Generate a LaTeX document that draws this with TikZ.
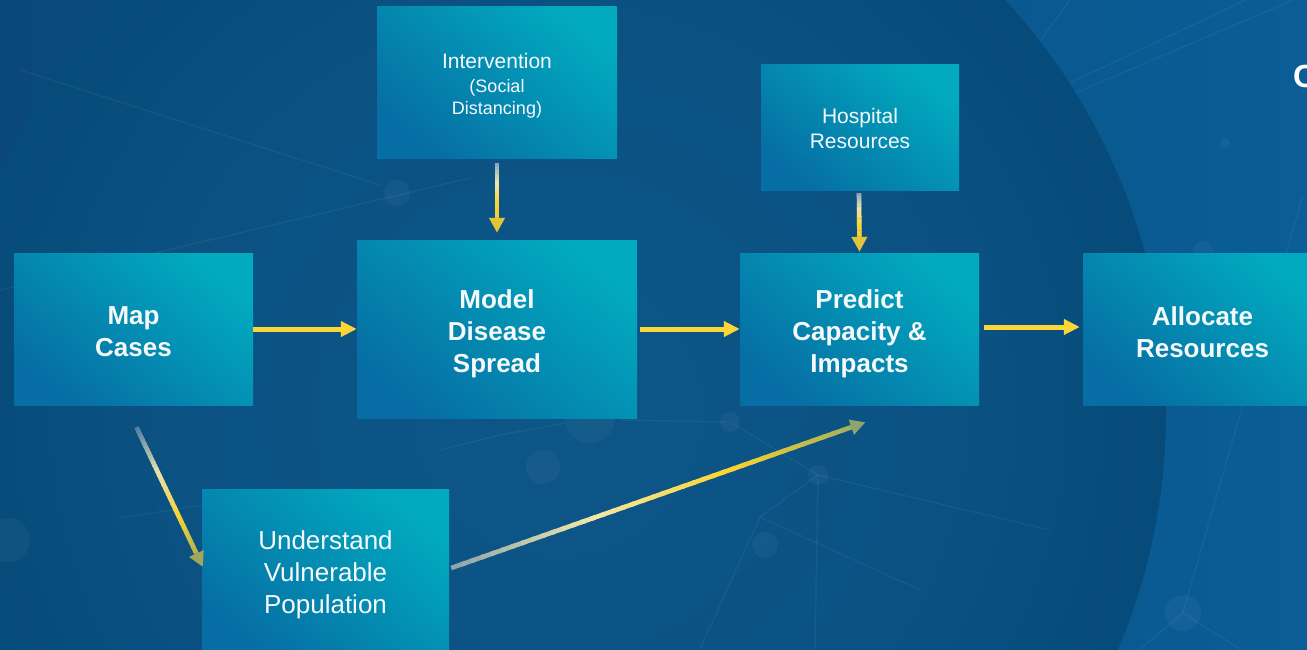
\documentclass[tikz,border=0pt]{standalone}
\usepackage{fontspec}
\setmainfont{Liberation Sans}
\usetikzlibrary{arrows.meta,calc}
\definecolor{bgL}{HTML}{0A487A}
\definecolor{bgR}{HTML}{0A5D96}
\definecolor{circA}{HTML}{0D5687}
\definecolor{circB}{HTML}{0B5283}
\definecolor{circC}{HTML}{064B79}
\definecolor{boxTR}{HTML}{01AABF}
\definecolor{boxBL}{HTML}{066EA4}
\definecolor{ylw}{HTML}{FCD537}
\definecolor{txt}{HTML}{F6F9FB}
% gradient colours
\definecolor{vA}{HTML}{86A6BE}
\definecolor{vB}{HTML}{EEE6B0}
\definecolor{vC}{HTML}{FBD63A}
\definecolor{vD}{HTML}{F2CE34}
\definecolor{vH}{HTML}{E2C536}
\definecolor{mA}{HTML}{4E7EA4}
\definecolor{mB}{HTML}{E6E1B2}
\definecolor{mC}{HTML}{F8D333}
\definecolor{mD}{HTML}{B4B352}
\definecolor{mH}{HTML}{A0A65A}
\definecolor{uA}{HTML}{8BA3B0}
\definecolor{uB}{HTML}{F1E7A9}
\definecolor{uC}{HTML}{FBD42B}
\definecolor{uD}{HTML}{A5AE60}
\definecolor{uH}{HTML}{8EA46E}
\pgfdeclareradialshading{bigdisc}{\pgfpoint{0bp}{0bp}}{color(0bp)=(circA); color(16bp)=(circB); color(25bp)=(circC); color(50bp)=(circC)}
% #1 start, #2 end, #3..#6 colour stops, #7 head colour
\newcommand\gradarrow[7]{%
  \coordinate (ga-e) at ($(#2)!15pt!(#1)$);
  \foreach \i in {0,...,39}{%
    \pgfmathsetmacro\ta{\i/40}%
    \pgfmathsetmacro\tb{(\i+1.4)/40}%
    \pgfmathsetmacro\tm{(\i+0.5)/40}%
    \ifdim\tm pt<0.35pt
      \pgfmathtruncatemacro\p{\tm/0.35*100}%
      \colorlet{gacol}{#4!\p!#3}%
    \else\ifdim\tm pt<0.7pt
      \pgfmathtruncatemacro\p{(\tm-0.35)/0.35*100}%
      \colorlet{gacol}{#5!\p!#4}%
    \else
      \pgfmathtruncatemacro\p{(\tm-0.7)/0.3*100}%
      \colorlet{gacol}{#6!\p!#5}%
    \fi\fi
    \draw[line width=4.6pt, gacol] ($(#1)!\ta!(ga-e)$) -- ($(#1)!\tb!(ga-e)$);
  }
  \draw[#7, line width=4.6pt, -{Triangle[length=15pt,width=15pt]}] ($(#2)!16pt!(#1)$) -- (#2);
}
\begin{document}
\begin{tikzpicture}[x=1pt,y=-1pt,
  box/.style={shading=axis, top color=boxTR, bottom color=boxBL, shading angle=-40, inner sep=0pt},
  lbl/.style={text=txt, align=center, inner sep=0pt},
  bold/.style={lbl, font=\fontsize{26}{32}\selectfont\bfseries},
  reg/.style={lbl, font=\fontsize{26}{32}\selectfont},
  small/.style={lbl, font=\fontsize{21}{25}\selectfont},
  yarrow/.style={ylw, line width=5pt, -{Triangle[length=16pt,width=15pt]}},
  net/.style={white, opacity=0.05, line width=1.3pt},
  dot/.style={fill=white, opacity=0.04}]
\useasboundingbox (0,0) rectangle (1307,649);
\clip (0,0) rectangle (1307,649);
% background
\shade[left color=bgL, right color=bgR] (0,0) rectangle (1307,649);
\shade[shading=bigdisc] (558,412) circle[radius=608pt];
% faint network
\draw[net] (20,70) -- (380,185);
\draw[net] (0,290) -- (470,178);
\draw[net] (120,518) -- (260,496);
\draw[net] (620,420) -- (730,422) -- (818,475) -- (1050,530);
\draw[net] (818,475) -- (760,517) -- (700,649);
\draw[net] (818,475) -- (815,649);
\draw[net] (760,517) -- (920,590);
\draw[net] (440,450) -- (500,435) -- (565,423);
\draw[net] (1040,41) -- (1070,0);
\draw[net] (1070,83) -- (1307,-29);
\draw[net] (1075,93) -- (1307,-6);
\draw[net] (1303,195) -- (1183,613) -- (1140,649);
\draw[net] (1183,613) -- (1240,649);
\fill[dot] (397,193) circle[radius=13pt];
\fill[dot] (590,418) circle[radius=25pt];
\fill[dot] (543,467) circle[radius=17pt];
\fill[dot] (765,545) circle[radius=13pt];
\fill[dot] (730,422) circle[radius=10pt];
\fill[dot] (818,475) circle[radius=10pt];
\fill[dot] (8,540) circle[radius=22pt];
\fill[dot] (1183,613) circle[radius=18pt];
\fill[dot] (1203,251) circle[radius=10pt];
\fill[dot] (1225,143) circle[radius=5pt];
% boxes
\node[box, minimum width=239pt, minimum height=152pt,
  label={[bold, yshift=-3pt]center:Map\\Cases}] (map) at (133.5,329) {};
\node[box, minimum width=280pt, minimum height=178pt,
  label={[bold, yshift=-5pt]center:Model\\Disease\\Spread}] (model) at (497,329) {};
\node[box, minimum width=240pt, minimum height=152pt,
  label={[lbl, yshift=-4pt, font=\fontsize{21}{22}\selectfont]center:Intervention\\[2pt]{\fontsize{18}{22}\selectfont(Social}\\{\fontsize{18}{22}\selectfont Distancing)}}] (interv) at (497,82) {};
\node[box, minimum width=198pt, minimum height=126pt,
  label={[small, yshift=-1pt]center:Hospital\\Resources}] (hosp) at (860,127) {};
\node[box, minimum width=239pt, minimum height=152pt,
  label={[bold, yshift=-5pt]center:Predict\\Capacity \&\\Impacts}] (predict) at (859.5,329) {};
\node[box, minimum width=239pt, minimum height=152pt,
  label={[bold, yshift=-3pt]center:Allocate\\Resources}] (alloc) at (1202.5,329) {};
\node[box, minimum width=247pt, minimum height=166pt,
  label={[reg, yshift=-3pt]center:Understand\\Vulnerable\\Population}] (und) at (325.5,572) {};
% title fragment
\node[anchor=west, inner sep=0pt, text=white, font=\fontsize{32}{36}\selectfont\bfseries] (title) at (1293,76) {C};
% straight arrows
\draw[yarrow] (map.east) -- (model.west);
\draw[yarrow, shorten <=3pt] (model.east) -- (predict.west);
\draw[yarrow] ($(predict.east)+(5,-2)$) -- ($(alloc.west)+(-3,-2)$);
% gradient arrows
\coordinate (iv1) at ($(interv.south)+(0,5)$);
\coordinate (iv2) at ($(model.north)+(0,-7)$);
\coordinate (hp1) at ($(hosp.south)+(-1,3)$);
\coordinate (hp2) at ($(predict.north)+(0,-1)$);
\coordinate (mu1) at ($(map.south)+(3,22)$);
\coordinate (mu2) at ($(und.west)+(1,-5)$);
\coordinate (up1) at ($(und.east)+(2,-4)$);
\coordinate (up2) at ($(predict.south)+(6,17)$);
\gradarrow{iv1}{iv2}{vA}{vB}{vC}{vD}{vH}
\gradarrow{hp1}{hp2}{vA}{vB}{vC}{vD}{vH}
\gradarrow{mu1}{mu2}{mA}{mB}{mC}{mD}{mH}
\gradarrow{up1}{up2}{uA}{uB}{uC}{uD}{uH}
\end{tikzpicture}
\end{document}
